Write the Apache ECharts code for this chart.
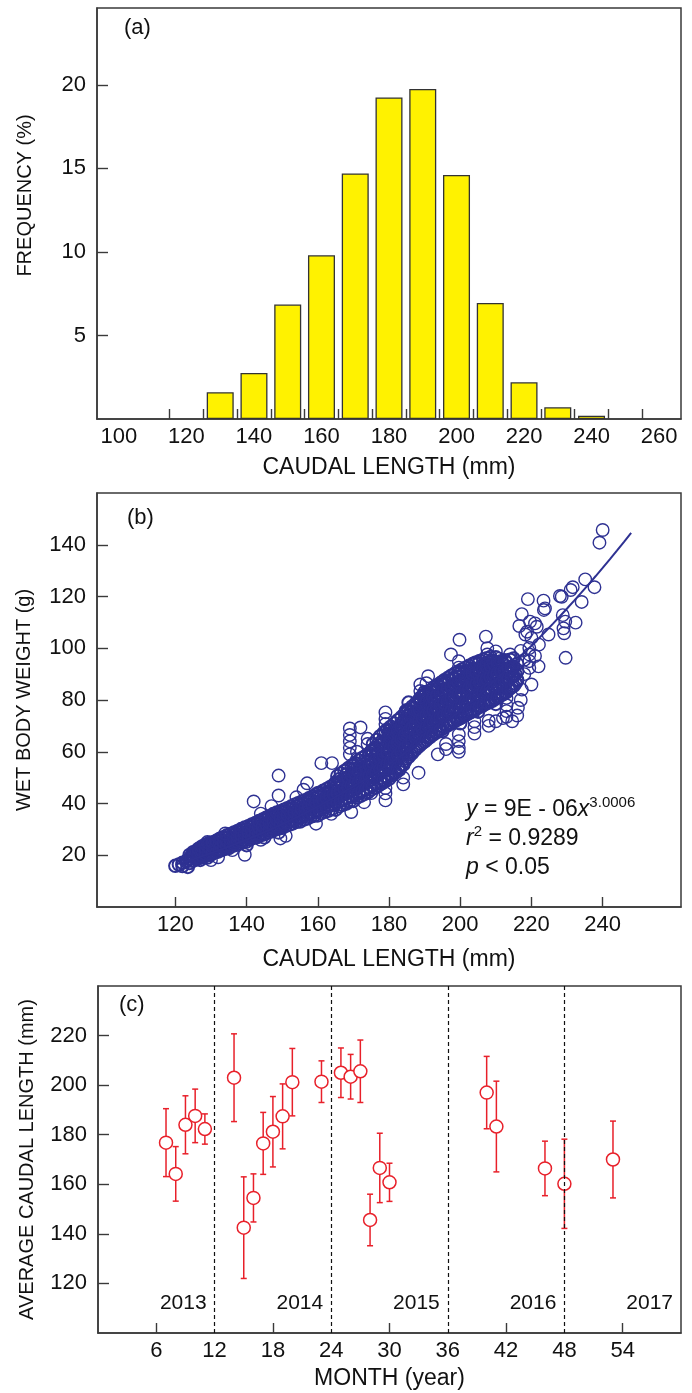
<!DOCTYPE html>
<html>
<head>
<meta charset="utf-8">
<title>Caudal length, body weight and monthly mean length</title>
<script src="https://cdn.jsdelivr.net/npm/echarts@6/dist/echarts.min.js"></script>
<style>
  html, body { margin: 0; padding: 0; background: #fff; }
  #chart { width: 692px; height: 1393px; }
</style>
</head>
<body>
<div id="chart"></div>
<script>
// ---------- (a) length-frequency histogram ----------
const histBinCenters = [130, 140, 150, 160, 170, 180, 190, 200, 210, 220, 230, 240];
const histFrequency = [1.6, 2.75, 6.85, 9.8, 14.7, 19.25, 19.75, 14.6, 6.95, 2.2, 0.7, 0.2];
const histXLabels = [100, 120, 140, 160, 180, 200, 220, 240, 260];
const histXTicks = [115, 125, 135, 145, 155, 165, 175, 185, 195, 205, 215, 225, 235, 245, 255];
const histYLabels = [5, 10, 15, 20];

// ---------- (b) caudal length (mm) vs wet body weight (g) ----------
// fish measured to the whole millimetre
const wholeMmFish = [
  [120,15.9],[121,16.4],[122,17.1],[122,15.8],[123,17.6],[123.5,18.1],[123.5,15.5],
  [124,17.0],[124,18.8],[124,20.1],[125,17.9],[125,19.6],[125,21.2],[126,18.5],[126,20.3],[126,21.8],
  [127,19.0],[127,20.9],[127,22.6],[127,18.2],[128,19.4],[128,21.3],[128,23.0],
  [129,20.0],[129,21.9],[129,23.6],[129,19.1],[130,20.2],[130,22.4],[130,24.1],[130,21.0],
  [131,21.1],[131,22.8],[131,24.6],[132,21.4],[132,23.5],[132,25.3],[132,22.2],
  [133,22.0],[133,24.0],[133,25.8],[134,22.5],[134,24.4],[134,26.6],[134,23.3],
  [135,22.8],[135,24.9],[135,27.0],[135,25.7],[136,23.6],[136,25.4],[136,27.5],
  [137,24.0],[137,26.1],[137,28.3],[137,25.0],[138,24.6],[138,26.7],[138,28.9],
  [139,25.1],[139,27.2],[139,29.6],[139,26.0],[140,25.3],[140,27.6],[140,30.0],[140,28.5],[140,23.9],
  [141,26.2],[141,28.4],[141,30.7],[142,26.7],[142,28.9],[142,31.4],[142,27.5],
  [143,27.0],[143,29.5],[143,32.0],[143,30.6],[144,27.8],[144,30.1],[144,32.6],
  [145,28.1],[145,30.8],[145,33.4],[145,31.6],[145,26.9],[146,28.9],[146,31.3],[146,34.0],
  [147,29.2],[147,31.9],[147,34.7],[147,33.0],[148,29.9],[148,32.5],[148,35.3],
  [149,30.3],[149,33.0],[149,35.8],[149,34.2],[149,28.8],[150,30.6],[150,33.4],[150,36.4],[150,34.9],[150,31.8],
  [151,31.4],[151,34.1],[151,36.9],[152,31.8],[152,34.7],[152,37.6],[152,35.9],
  [153,32.3],[153,35.2],[153,38.1],[154,32.9],[154,35.8],[154,38.7],[154,37.1],
  [155,33.0],[155,36.1],[155,39.4],[155,37.6],[155,34.7],[156,33.8],[156,36.8],[156,39.9],
  [157,34.2],[157,37.4],[157,40.6],[157,38.9],[158,34.9],[158,38.0],[158,41.2],
  [159,35.3],[159,38.5],[159,41.8],[159,40.1],[160,35.4],[160,38.9],[160,42.5],[160,40.6],[160,37.2],[160,44.0],
  [161,36.3],[161,39.6],[161,43.0],[162,36.9],[162,40.2],[162,43.7],[162,41.9],
  [163,37.2],[163,40.8],[163,44.4],[164,37.9],[164,41.5],[164,45.1],[164,43.2],
  [165,37.6],[165,41.0],[165,44.6],[165,48.1],[165,42.9],[165,46.3],[166,38.9],[166,42.6],[166,46.2],[166,49.4],
  [167,39.5],[167,43.3],[167,47.0],[167,45.1],[168,40.0],[168,43.9],[168,47.7],[168,51.2],
  [169,40.8],[169,44.6],[169,48.5],[169,46.5],
  [170,41.0],[170,44.5],[170,48.0],[170,51.6],[170,55.0],[170,46.4],[170,50.0],[170,53.1],
  [171,42.3],[171,46.0],[171,49.8],[171,53.5],[172,42.9],[172,46.8],[172,50.6],[172,54.4],[172,48.7],
  [173,43.6],[173,47.6],[173,51.5],[173,55.3],[174,44.2],[174,48.3],[174,52.3],[174,56.4],[174,50.2],
  [175,45.4],[175,49.2],[175,53.0],[175,56.8],[175,60.2],[175,51.0],[175,55.0],[175,58.4],
  [176,46.0],[176,50.1],[176,54.2],[176,58.1],[176,61.5],[177,46.9],[177,51.1],[177,55.3],[177,59.3],[177,53.2],
  [178,47.8],[178,52.0],[178,56.3],[178,60.4],[178,64.0],[179,48.6],[179,53.0],[179,57.4],[179,61.6],[179,55.1],[179,59.5],
  [180,49.5],[180,53.5],[180,57.5],[180,61.5],[180,65.5],[180,68.0],[180,51.5],[180,55.6],[180,59.6],[180,63.4],[180,67.0],
  [181,50.9],[181,55.0],[181,59.2],[181,63.5],[181,67.4],[182,52.0],[182,56.2],[182,60.6],[182,64.9],[182,68.8],[182,58.4],
  [183,53.5],[183,57.8],[183,62.1],[183,66.3],[183,70.1],[184,55.0],[184,59.3],[184,63.6],[184,67.9],[184,71.6],[184,61.4],[184,65.8],
  [185,57.5],[185,61.5],[185,65.5],[185,69.5],[185,73.5],[185,76.0],[185,59.5],[185,63.6],[185,67.5],[185,71.5],
  [186,59.0],[186,63.2],[186,67.4],[186,71.5],[186,75.2],[187,60.4],[187,64.6],[187,68.9],[187,73.1],[187,76.8],[187,66.8],[187,71.0],
  [188,61.8],[188,66.0],[188,70.3],[188,74.5],[188,78.2],[189,63.0],[189,67.2],[189,71.6],[189,75.8],[189,79.7],[189,69.5],[189,73.7],
  [190,64.0],[190,68.0],[190,72.0],[190,76.0],[190,80.0],[190,83.0],[190,66.0],[190,70.0],[190,74.0],[190,78.0],[190,82.0],
  [191,65.5],[191,69.6],[191,73.8],[191,77.9],[191,81.6],[192,66.8],[192,70.8],[192,74.9],[192,79.1],[192,83.0],[192,72.9],[192,77.0],
  [193,67.6],[193,71.7],[193,75.9],[193,80.0],[193,84.1],[194,68.6],[194,72.6],[194,76.8],[194,81.0],[194,85.0],[194,74.8],[194,78.9],
  [195,68.0],[195,72.0],[195,76.0],[195,80.0],[195,84.0],[195,87.0],[195,70.0],[195,74.0],[195,78.0],[195,82.0],[195,86.0],
  [196,70.4],[196,74.4],[196,78.5],[196,82.6],[196,86.5],[197,71.3],[197,75.3],[197,79.4],[197,83.4],[197,87.6],[197,77.4],[197,81.5],
  [198,71.9],[198,75.9],[198,80.0],[198,84.1],[198,88.3],[199,72.6],[199,76.7],[199,80.8],[199,84.9],[199,89.1],[199,78.8],[199,82.9],
  [200,71.0],[200,75.0],[200,79.0],[200,83.0],[200,87.0],[200,90.5],[200,73.0],[200,77.0],[200,81.0],[200,85.0],[200,89.0],
  [201,73.8],[201,77.9],[201,82.0],[201,86.1],[201,90.2],[202,74.6],[202,78.7],[202,82.8],[202,86.9],[202,90.9],[202,80.8],[202,84.8],
  [203,75.3],[203,79.4],[203,83.5],[203,87.6],[203,91.5],[204,76.0],[204,80.1],[204,84.2],[204,88.3],[204,92.1],[204,82.2],[204,86.3],
  [205,75.5],[205,79.5],[205,83.5],[205,87.5],[205,91.5],[205,94.0],[205,77.5],[205,81.5],[205,85.5],[205,89.5],
  [206,77.5],[206,81.5],[206,85.6],[206,89.6],[206,93.2],[207,78.4],[207,82.4],[207,86.4],[207,90.4],[207,94.0],[207,84.4],[207,88.4],
  [208,79.0],[208,83.0],[208,87.1],[208,91.1],[208,94.6],[209,79.7],[209,83.7],[209,87.7],[209,91.8],[209,95.2],[209,85.7],[209,89.8],
  [210,78.5],[210,82.5],[210,86.5],[210,90.5],[210,94.5],[210,96.5],[210,80.5],[210,84.5],[210,88.5],[210,92.5],
  [211,81.4],[211,85.4],[211,89.4],[211,93.3],[212,82.2],[212,86.1],[212,90.1],[212,93.9],[212,88.0],
  [213,83.0],[213,86.9],[213,90.8],[213,94.5],[214,84.5],[214,88.4],[214,92.2],[214,95.6],
  [215,85.5],[215,89.2],[215,92.8],[215,96.0],[216,87.5],[216,91.0],[216,94.0]
];
// fish measured to the half millimetre
const halfMmFish = [
  [124.5,18.0],[124.5,19.8],[125.5,18.8],[125.5,20.6],[126.5,19.3],[126.5,21.1],[126.5,22.5],
  [127.5,19.9],[127.5,21.8],[127.5,23.4],[128.5,20.5],[128.5,22.4],[128.5,24.2],[129.5,20.8],[129.5,22.9],[129.5,24.7],
  [130.5,21.4],[130.5,23.3],[130.5,25.0],[131.5,22.0],[131.5,23.9],[131.5,25.6],[132.5,22.5],[132.5,24.5],[132.5,26.4],
  [133.5,23.0],[133.5,25.1],[133.5,27.0],[134.5,23.6],[134.5,25.6],[134.5,27.7],[135.5,24.0],[135.5,26.2],[135.5,28.2],
  [136.5,24.6],[136.5,26.7],[136.5,28.8],[137.5,25.2],[137.5,27.3],[137.5,29.4],[138.5,25.7],[138.5,27.9],[138.5,30.1],
  [139.5,26.2],[139.5,28.4],[139.5,30.7],[140.5,26.6],[140.5,28.9],[140.5,31.2],[141.5,27.2],[141.5,29.5],[141.5,31.9],
  [142.5,27.8],[142.5,30.1],[142.5,32.5],[143.5,28.4],[143.5,30.7],[143.5,33.2],[144.5,28.9],[144.5,31.3],[144.5,33.8],
  [145.5,29.5],[145.5,32.0],[145.5,34.5],[146.5,30.0],[146.5,32.6],[146.5,35.2],[147.5,30.6],[147.5,33.2],[147.5,35.9],
  [148.5,31.1],[148.5,33.8],[148.5,36.5],[149.5,31.6],[149.5,34.4],[149.5,37.0],[150.5,32.1],[150.5,34.9],[150.5,37.6],
  [151.5,32.7],[151.5,35.5],[151.5,38.2],[152.5,33.2],[152.5,36.1],[152.5,38.8],[153.5,33.7],[153.5,36.6],[153.5,39.5],
  [154.5,34.3],[154.5,37.2],[154.5,40.1],[155.5,34.8],[155.5,37.8],[155.5,40.7],[156.5,35.4],[156.5,38.4],[156.5,41.3],
  [157.5,35.9],[157.5,39.0],[157.5,42.0],[158.5,36.5],[158.5,39.6],[158.5,42.7],[159.5,37.0],[159.5,40.3],[159.5,43.4],
  [160.5,37.5],[160.5,40.9],[160.5,44.2],[161.5,38.1],[161.5,41.6],[161.5,44.9],[162.5,38.7],[162.5,42.2],[162.5,45.6],
  [163.5,39.2],[163.5,42.9],[163.5,46.4],[164.5,39.8],[164.5,43.5],[164.5,47.2],
  [165.5,40.4],[165.5,44.2],[165.5,47.9],[165.5,50.6],[166.5,41.0],[166.5,44.9],[166.5,48.6],[166.5,51.6],
  [167.5,41.6],[167.5,45.6],[167.5,49.4],[167.5,52.6],[168.5,42.2],[168.5,46.3],[168.5,50.2],[168.5,53.6],
  [169.5,42.8],[169.5,47.0],[169.5,51.0],[169.5,54.6],[170.5,43.5],[170.5,47.7],[170.5,51.8],[170.5,55.6],
  [171.5,44.1],[171.5,48.4],[171.5,52.6],[171.5,56.6],[172.5,44.8],[172.5,49.1],[172.5,53.4],[172.5,57.6],
  [173.5,45.4],[173.5,49.8],[173.5,54.2],[173.5,58.5],[174.5,46.1],[174.5,50.6],[174.5,55.0],[174.5,59.4],
  [175.5,46.8],[175.5,51.4],[175.5,55.9],[175.5,60.4],[175.5,63.0],[176.5,47.6],[176.5,52.3],[176.5,56.9],[176.5,61.4],[176.5,64.5],
  [177.5,48.4],[177.5,53.2],[177.5,57.9],[177.5,62.4],[177.5,66.0],[178.5,49.3],[178.5,54.1],[178.5,58.9],[178.5,63.5],[178.5,67.3],
  [179.5,50.2],[179.5,55.1],[179.5,60.0],[179.5,64.6],[179.5,68.6],[180.5,51.2],[180.5,56.1],[180.5,61.1],[180.5,65.8],[180.5,69.7],
  [181.5,52.3],[181.5,57.3],[181.5,62.3],[181.5,67.0],[181.5,70.9],[182.5,53.6],[182.5,58.6],[182.5,63.6],[182.5,68.3],[182.5,72.2],
  [183.5,55.0],[183.5,60.0],[183.5,65.0],[183.5,69.6],[183.5,73.4],[184.5,56.4],[184.5,61.4],[184.5,66.4],[184.5,71.0],[184.5,74.7],
  [185.5,58.0],[185.5,62.9],[185.5,67.8],[185.5,72.4],[185.5,76.0],[185.5,79.0],[186.5,59.5],[186.5,64.3],[186.5,69.2],[186.5,73.8],[186.5,77.4],
  [187.5,61.0],[187.5,65.7],[187.5,70.6],[187.5,75.1],[187.5,78.7],[188.5,62.3],[188.5,67.0],[188.5,71.9],[188.5,76.4],[188.5,80.1],
  [189.5,63.5],[189.5,68.3],[189.5,73.1],[189.5,77.6],[189.5,81.4],[190.5,64.6],[190.5,69.3],[190.5,74.2],[190.5,78.7],[190.5,82.6],
  [191.5,65.7],[191.5,70.4],[191.5,75.2],[191.5,79.8],[191.5,83.7],[192.5,66.7],[192.5,71.4],[192.5,76.2],[192.5,80.8],[192.5,84.7],
  [193.5,67.6],[193.5,72.3],[193.5,77.1],[193.5,81.8],[193.5,85.7],[194.5,68.5],[194.5,73.2],[194.5,78.0],[194.5,82.7],[194.5,86.6],
  [195.5,69.4],[195.5,74.0],[195.5,78.9],[195.5,83.6],[195.5,87.6],[196.5,70.2],[196.5,74.9],[196.5,79.7],[196.5,84.5],[196.5,88.5],
  [197.5,71.0],[197.5,75.7],[197.5,80.6],[197.5,85.4],[197.5,89.4],[198.5,71.8],[198.5,76.5],[198.5,81.4],[198.5,86.2],[198.5,90.2],
  [199.5,72.6],[199.5,77.3],[199.5,82.2],[199.5,87.0],[199.5,91.0],[200.5,73.4],[200.5,78.1],[200.5,83.0],[200.5,87.8],[200.5,91.8],
  [201.5,74.2],[201.5,78.9],[201.5,83.8],[201.5,88.6],[201.5,92.5],[202.5,75.0],[202.5,79.7],[202.5,84.6],[202.5,89.4],[202.5,93.2],
  [203.5,75.8],[203.5,80.5],[203.5,85.3],[203.5,90.1],[203.5,93.9],[204.5,76.6],[204.5,81.3],[204.5,86.1],[204.5,90.8],[204.5,94.5],
  [205.5,77.4],[205.5,82.1],[205.5,86.9],[205.5,91.5],[205.5,95.1],[206.5,78.2],[206.5,82.9],[206.5,87.6],[206.5,92.2],[206.5,95.6],
  [207.5,79.0],[207.5,83.6],[207.5,88.3],[207.5,92.8],[207.5,96.1],[208.5,79.8],[208.5,84.4],[208.5,89.0],[208.5,93.4],[208.5,96.6],
  [209.5,80.6],[209.5,85.1],[209.5,89.7],[209.5,94.0],[210.5,81.4],[210.5,85.8],[210.5,90.4],[210.5,94.5],
  [211.5,82.3],[211.5,86.6],[211.5,91.0],[211.5,95.0],[212.5,83.2],[212.5,87.4],[212.5,91.6],[212.5,95.4],
  [213.5,84.2],[213.5,88.2],[213.5,92.2],[214.5,85.2],[214.5,89.0],[214.5,92.8],[215.5,86.4],[215.5,90.0]
];
// fish lying away from the main length-weight trend
const scatteredFish = [
  [126,21.3],[129,25.1],[130,18.1],[132,19.2],[134,28.4],[136,22.0],[139.5,20.2],
  [142,40.8],[144,36.1],[144,26.0],[147,39.0],[149,50.8],[149,43.1],[149.5,26.5],[151,27.5],
  [154,42.4],[156,45.3],[157,47.8],[159.5,32.2],[161,55.6],[164,55.6],[163.8,36.0],
  [169,59.0],[169,61.5],[169,64.0],[169,66.5],[169,69.0],[172,69.4],[171,57.0],[171,60.0],[174,63.0],[174,65.0],
  [175,47.0],[175,44.0],[169.4,36.7],[173,40.5],[179,75.2],[179,72.7],[179,70.7],[179,68.0],
  [179,48.9],[179,46.0],[179,43.9],[179,41.2],[184.6,75.7],[184,50.0],[184,47.4],[183,53.0],[188.3,51.9],
  [188.8,86.0],[188.8,83.5],[188.8,81.0],[188.8,78.5],[191,89.2],[190.5,86.5],[193.7,59.0],[196,61.0],[196,63.0],
  [197.4,97.6],[199.8,103.3],[199.6,95.0],[199.6,92.5],[199.6,90.2],[199.6,88.6],
  [199.6,66.7],[199.6,64.1],[199.6,61.5],[199.6,60.0],[204,94.3],[204,71.8],[204,69.5],[204,67.0],
  [207.2,104.5],[207.6,100.0],[207.6,97.6],[208,70.0],[208,72.0],[210,98.8],[211,96.0],[210,71.8],[212,73.0],
  [213,80.8],[213,78.0],[213,75.7],[213,73.5],[214,97.6],[214.6,71.8],[216.2,77.0],[216,74.0],
  [217,99.0],[218,95.5],[220,104.0],[221,97.0],[222,93.0],[216,88.0],[218,90.0],[217,80.0],
  [217.3,113.2],[216.6,108.6],[218.3,105.3],[219,119.0],[219.4,100.1],[219.4,97.6],[219.4,95.0],[219.4,92.4],
  [220,86.0],[217.3,84.0],[219.6,110.3],[221,109.6],[221.5,108.3],[218.8,106.4],[222.1,101.4],
  [223.4,118.4],[223.8,115.4],[223.5,114.8],[224.8,105.3],[228,120.2],[228.5,119.9],
  [228.8,112.8],[229.5,110.3],[229,107.7],[229.2,105.8],[229.6,96.3],[231,122.5],[231.6,123.6],
  [232.4,109.9],[234.1,117.9],[235.1,126.6],[237.7,123.6],[239.1,140.8],[240,145.7]
];
const weightXLabels = [120, 140, 160, 180, 200, 220, 240];
const weightYLabels = [20, 40, 60, 80, 100, 120, 140];
// power-law fit W = a * L^b
const fitCoef = 9.45e-6;
const fitExp = 3.0006;
const fitR2 = 0.9289;
const fitRange = [120, 248];

// ---------- (c) monthly mean caudal length ± SD ----------
const sampleMonth = [7, 8, 9, 10, 11, 14, 15, 16, 17, 18, 19, 20, 23, 25, 26, 27, 28, 29, 30, 40, 41, 46, 48, 53];
const meanLength = [176.8, 164.2, 184.0, 187.6, 182.3, 203.0, 142.5, 154.5, 176.5, 181.2, 187.4, 201.2,
                    201.4, 205.0, 203.4, 205.6, 145.6, 166.6, 160.8, 197.0, 183.3, 166.4, 160.2, 170.0];
const sdLength = [13.7, 11.0, 11.7, 10.8, 6.1, 17.7, 20.5, 9.7, 12.5, 14.2, 13.1, 13.6,
                  8.4, 10.0, 9.0, 12.6, 10.4, 14.0, 7.7, 14.6, 18.3, 11.0, 18.0, 15.5];
const yearBoundaries = [12, 24, 36, 48];
const yearNames = ['2013', '2014', '2015', '2016', '2017'];
const monthLabels = [6, 12, 18, 24, 30, 36, 42, 48, 54];
const monthTicks = [6, 18, 30, 42, 54];
const meanYLabels = [120, 140, 160, 180, 200, 220];

// ---------- shared styles ----------
const FONT = '"Liberation Sans", Arial, Helvetica, sans-serif';
const INK = '#111';
const FRAME = '#3a3a3a';
const YELLOW = '#fff200';
const NAVY = '#2e3192';
const RED = '#e8202a';

function xAxisBase(grid, min, max, labels, ticks, name, nameGap) {
  return {
    type: 'value', gridIndex: grid, min: min, max: max,
    name: name, nameLocation: 'middle', nameGap: nameGap,
    nameTextStyle: { fontFamily: FONT, fontSize: 23, color: INK },
    axisLine: { show: true, lineStyle: { color: FRAME, width: 1.5 } },
    axisTick: { show: true, inside: true, length: 10, customValues: ticks, lineStyle: { color: FRAME, width: 1.4 } },
    axisLabel: { show: true, customValues: labels, margin: 7, fontFamily: FONT, fontSize: 22, color: INK },
    splitLine: { show: false }
  };
}
function yAxisBase(grid, min, max, labels, name, nameGap, namePad) {
  return {
    type: 'value', gridIndex: grid, min: min, max: max,
    name: name, nameLocation: 'middle', nameGap: nameGap,
    nameTextStyle: { fontFamily: FONT, fontSize: 20, color: INK, padding: namePad || 0 },
    axisLine: { show: true, lineStyle: { color: FRAME, width: 1.5 } },
    axisTick: { show: true, inside: true, length: 11, customValues: labels, lineStyle: { color: FRAME, width: 1.4 } },
    axisLabel: { show: true, customValues: labels, margin: 11, fontFamily: FONT, fontSize: 22, color: INK },
    splitLine: { show: false }
  };
}

// fitted curve sampled along the length range
const fitCurve = [];
for (let L = fitRange[0]; L <= fitRange[1]; L += 2) {
  fitCurve.push([L, fitCoef * Math.pow(L, fitExp)]);
}
// coefficient printed the way the fit summary shows it, e.g. "9E - 06"
const coefParts = fitCoef.toExponential(0).split('e');
const coefExpNum = parseInt(coefParts[1], 10);
const coefText = coefParts[0] + 'E ' + (coefExpNum < 0 ? '- ' : '+ ') + String(Math.abs(coefExpNum)).padStart(2, '0');

const coreFish = wholeMmFish.concat(halfMmFish);
const errorData = sampleMonth.map((m, i) => [m, meanLength[i] - sdLength[i], meanLength[i] + sdLength[i]]);
const meanData = sampleMonth.map((m, i) => [m, meanLength[i]]);
const yearLabelData = yearNames.map((n, i) => [12 * (i + 1), 112, n]);

const chart = echarts.init(document.getElementById('chart'), null, { renderer: 'canvas' });

const fishSymbol = { type: 'scatter', xAxisIndex: 1, yAxisIndex: 1, symbol: 'circle', symbolSize: 12.5, large: false, progressive: 0 };

chart.setOption({
  animation: false,
  backgroundColor: '#fff',
  textStyle: { fontFamily: FONT },
  grid: [
    { left: 97, top: 8, width: 584, height: 411, show: true, borderColor: FRAME, borderWidth: 1.5, backgroundColor: 'transparent' },
    { left: 97, top: 493, width: 584, height: 414, show: true, borderColor: FRAME, borderWidth: 1.5, backgroundColor: 'transparent' },
    { left: 98, top: 986, width: 583, height: 347, show: true, borderColor: FRAME, borderWidth: 1.5, backgroundColor: 'transparent' }
  ],
  xAxis: [
    xAxisBase(0, 93.5, 266.5, histXLabels, histXTicks, 'CAUDAL LENGTH (mm)', 37),
    xAxisBase(1, 98, 262, weightXLabels, weightXLabels, 'CAUDAL LENGTH (mm)', 41),
    xAxisBase(2, 0, 60, monthLabels, monthTicks, 'MONTH (year)', 34)
  ],
  yAxis: [
    yAxisBase(0, 0, 24.6, histYLabels, 'FREQUENCY (%)', 62, [0, 0, 0, 36]),
    yAxisBase(1, 0, 160, weightYLabels, 'WET BODY WEIGHT (g)', 63),
    yAxisBase(2, 100, 240, meanYLabels, 'AVERAGE CAUDAL LENGTH (mm)', 61)
  ],
  graphic: [
    { type: 'text', left: 124, top: 17, style: { text: '(a)', fontFamily: FONT, fontSize: 22, fill: INK } },
    { type: 'text', left: 127, top: 507, style: { text: '(b)', fontFamily: FONT, fontSize: 22, fill: INK } },
    { type: 'text', left: 119, top: 994, style: { text: '(c)', fontFamily: FONT, fontSize: 22, fill: INK } },
    {
      type: 'text', left: 466, top: 795,
      style: {
        text: '{i|y} = ' + coefText + '{i|x}{sup|' + fitExp.toFixed(4) + '}\n' +
              '{i|r}{sup|2} = ' + fitR2.toFixed(4) + '\n' +
              '{i|p} < 0.05',
        fontFamily: FONT, fontSize: 23, fill: INK, lineHeight: 29,
        rich: {
          i: { fontFamily: FONT, fontSize: 23, fontStyle: 'italic', fill: INK, lineHeight: 29 },
          sup: { fontFamily: FONT, fontSize: 15, fill: INK, verticalAlign: 'top', lineHeight: 29, padding: [0, 0, 12, 0] }
        }
      }
    }
  ],
  series: [
    {
      type: 'bar', xAxisIndex: 0, yAxisIndex: 0,
      data: histBinCenters.map((c, i) => [c, histFrequency[i]]),
      barWidth: 27,
      itemStyle: { color: YELLOW, borderColor: '#333', borderWidth: 1.3 }
    },
    Object.assign({}, fishSymbol, {
      data: coreFish,
      itemStyle: { color: 'rgba(0,0,0,0)', borderColor: NAVY, borderWidth: 2, opacity: 1 }
    }),
    Object.assign({}, fishSymbol, {
      data: scatteredFish,
      itemStyle: { color: 'rgba(0,0,0,0)', borderColor: NAVY, borderWidth: 1.4, opacity: 1 }
    }),
    {
      type: 'line', xAxisIndex: 1, yAxisIndex: 1,
      data: fitCurve, showSymbol: false, smooth: false,
      lineStyle: { color: NAVY, width: 2 }, z: 3
    },
    {
      type: 'custom', xAxisIndex: 2, yAxisIndex: 2,
      data: errorData,
      encode: { x: 0, y: [1, 2] },
      renderItem: function (params, api) {
        const x = api.value(0);
        const lo = api.coord([x, api.value(1)]);
        const hi = api.coord([x, api.value(2)]);
        const cap = 3;
        const st = { stroke: RED, lineWidth: 1.5 };
        return {
          type: 'group',
          children: [
            { type: 'line', shape: { x1: lo[0], y1: lo[1], x2: hi[0], y2: hi[1] }, style: st },
            { type: 'line', shape: { x1: lo[0] - cap, y1: lo[1], x2: lo[0] + cap, y2: lo[1] }, style: st },
            { type: 'line', shape: { x1: hi[0] - cap, y1: hi[1], x2: hi[0] + cap, y2: hi[1] }, style: st }
          ]
        };
      },
      markLine: {
        silent: true, symbol: 'none',
        label: { show: false },
        lineStyle: { color: '#111', width: 1.2, type: [4, 3] },
        data: yearBoundaries.map(v => ({ xAxis: v }))
      },
      z: 2
    },
    {
      type: 'scatter', xAxisIndex: 2, yAxisIndex: 2,
      data: meanData, symbol: 'circle', symbolSize: 13,
      itemStyle: { color: '#fff', borderColor: RED, borderWidth: 1.5, opacity: 1 },
      z: 4
    },
    {
      type: 'scatter', xAxisIndex: 2, yAxisIndex: 2,
      data: yearLabelData, symbolSize: 0, silent: true,
      itemStyle: { opacity: 1 },
      label: {
        show: true, position: 'left', distance: 8, opacity: 1,
        formatter: p => p.data[2],
        fontFamily: FONT, fontSize: 21, color: INK
      },
      z: 5
    }
  ]
});
</script>
</body>
</html>
